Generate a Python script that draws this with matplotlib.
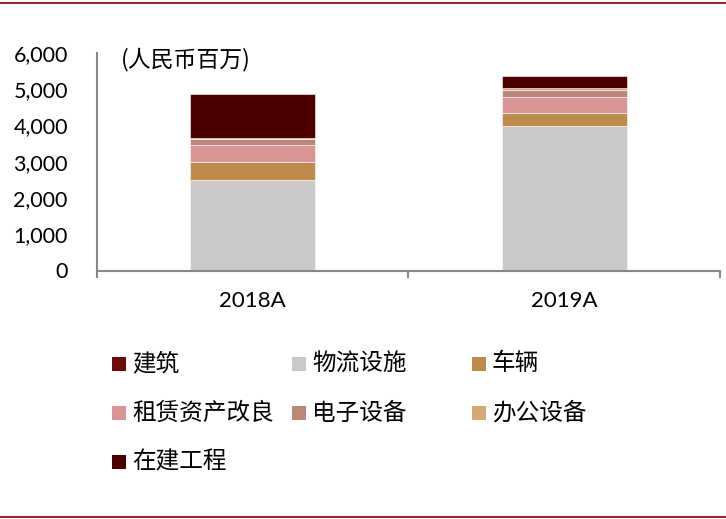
import matplotlib
matplotlib.use("Agg")
import matplotlib.pyplot as plt
from matplotlib.patches import Rectangle
from matplotlib.lines import Line2D
from matplotlib.ticker import FuncFormatter, FixedLocator

plt.rcParams['font.family'] = ['Lato', 'Noto Sans CJK SC', 'DejaVu Sans']

years = ['2018A', '2019A']
series = ['建筑', '物流设施', '车辆', '租赁资产改良', '电子设备', '办公设备', '在建工程']
colors = ['#6E0A0A', '#C9C9C9', '#BF8B4D', '#D99594', '#B98878', '#D4A873', '#4D0000']
jianzhu = [0, 0]
wuliu = [2490, 3990]
cheliang = [490, 340]
zulin = [480, 460]
dianzi = [170, 180]
bangong = [30, 60]
zaijian = [1200, 340]
values = [jianzhu, wuliu, cheliang, zulin, dianzi, bangong, zaijian]

fig = plt.figure(figsize=(7.26, 5.19), dpi=100)
ax = fig.add_axes([97/726, 1-270.5/519, 623/726, 217.8/519])

x = range(len(years))
bottom = [0, 0]
for name, vals, c in zip(series, values, colors):
    ax.bar(x, vals, 0.4, bottom=bottom, color=c, edgecolor='white', linewidth=0.4, label=name)
    bottom = [b + v for b, v in zip(bottom, vals)]

ax.set_xlim(-0.5, 1.5)
ax.set_ylim(0, 6000)
ax.set_yticks(range(0, 6001, 1000))
ax.yaxis.set_major_formatter(FuncFormatter(lambda v, p: f'{int(v):,}'))
ax.set_xticks(list(x))
ax.set_xticklabels(years)
ax.xaxis.set_minor_locator(FixedLocator([-0.5, 0.5, 1.5]))
ax.tick_params(axis='y', length=0, pad=21, labelsize=15.5)
ax.tick_params(axis='x', which='major', length=0, pad=15, labelsize=16)
ax.tick_params(axis='x', which='minor', length=5, width=1.5, color='#898989')
for s in ['top', 'right']:
    ax.spines[s].set_visible(False)
for s in ['left', 'bottom']:
    ax.spines[s].set_color('#898989')
    ax.spines[s].set_linewidth(1.5)

ax.text(121/726, 1-60/519, '(人民币百万)', transform=fig.transFigure, fontsize=16.5,
        va='center', ha='left', family=['Noto Sans CJK SC'])

# legend, drawn by hand in three columns
col_x = [112, 292, 472]
row_y = [364, 413, 462]
for i, (name, c) in enumerate(zip(series, colors)):
    cx = col_x[i % 3]
    cy = row_y[i // 3]
    fig.patches.append(Rectangle((cx/726, 1-(cy+7)/519), 14/726, 14/519,
                                 transform=fig.transFigure, facecolor=c, edgecolor='none'))
    fig.text((cx+20)/726, 1-cy/519, name, fontsize=17, va='center', ha='left',
             family=['Noto Sans CJK SC'])

# top and bottom rules
fig.add_artist(Line2D([0, 1], [1-2.5/519, 1-2.5/519], color='#8B2E2E', linewidth=1.5))
fig.add_artist(Line2D([0, 1], [1-516.5/519, 1-516.5/519], color='#8B2E2E', linewidth=1.5))

fig.savefig('out.png', dpi=100)
